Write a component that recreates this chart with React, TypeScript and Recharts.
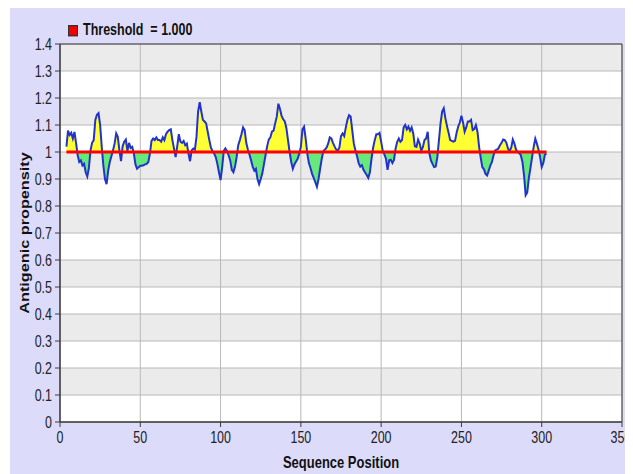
import React from "react";
import {
  ComposedChart,
  Area,
  Line,
  XAxis,
  YAxis,
  CartesianGrid,
  ReferenceArea,
} from "recharts";

// Antigenic propensity per residue, starting at residue 4
const firstResidue = 4;
const propensity = [
  1.02, 1.079, 1.063, 1.071, 1.05, 1.074, 1.034, 0.988, 0.963, 0.969,
  0.95, 0.956, 0.925, 0.909, 0.941, 1.006, 1.034, 1.044, 1.119, 1.138,
  1.144, 1.1, 1.019, 0.95, 0.9, 0.881, 0.931, 0.963, 0.984, 1.006,
  1.031, 1.069, 1.056, 1.006, 0.966, 1.021, 1.038, 1.046, 1.004, 1.034,
  1.015, 1.019, 0.994, 0.954, 0.938, 0.944, 0.949, 0.949, 0.951, 0.954,
  0.956, 0.963, 0.994, 1.041, 1.05, 1.044, 1.054, 1.044,
  1.044, 1.038, 1.054, 1.044, 1.066, 1.075, 1.081, 1.084, 1.044, 1.013,
  0.981, 1.021, 1.066, 1.038, 1.034, 1.041, 1.025, 1.031, 0.994, 0.966,
  1.006, 1.013, 1.009, 1.056, 1.15, 1.185, 1.15, 1.119, 1.113, 1.106,
  1.075, 1.044, 1.016, 1.004, 0.994, 0.981, 0.956, 0.925, 0.896, 0.944,
  1.004, 1.013, 1.003, 0.988, 0.969, 0.934, 0.925, 0.946, 0.981, 1.025,
  1.044, 1.066, 1.091, 1.081, 1.034, 1.009, 0.991, 0.969, 0.946, 0.931,
  0.938, 0.9, 0.881, 0.9, 0.921, 0.954, 0.988, 1.021, 1.046, 1.054,
  1.075, 1.079, 1.106, 1.131, 1.179, 1.159, 1.134, 1.121, 1.113, 1.088,
  1.044, 1.0, 0.963, 0.938, 0.954, 0.965, 0.975, 0.994, 1.019, 1.084,
  1.094, 1.05, 0.994, 0.959, 0.941, 0.919, 0.904, 0.888, 0.871, 0.9,
  0.938, 0.975, 1.003, 1.009, 1.016, 1.031, 1.054, 1.05, 1.034, 1.021,
  1.009, 1.006, 1.016, 1.059, 1.069, 1.059, 1.091, 1.119, 1.136, 1.131,
  1.081, 1.031, 1.006, 0.984, 0.959, 0.946, 0.951, 0.934, 0.924, 0.915,
  0.904, 0.925, 0.975, 1.016, 1.044, 1.066, 1.066, 1.071, 1.038, 1.004,
  0.991, 0.975, 0.934, 0.969, 0.971, 0.959, 0.971, 1.013, 1.038, 1.05,
  1.038, 1.044, 1.091, 1.1, 1.084, 1.094, 1.079, 1.091, 1.069, 1.021,
  1.019, 1.046, 1.031, 1.004, 1.019, 1.044, 1.05, 1.075, 0.996, 0.969,
  0.956, 0.944, 0.946, 0.981, 1.044, 1.106, 1.15, 1.162, 1.125, 1.096,
  1.071,
  1.044, 1.041, 1.038, 1.041, 1.071, 1.094, 1.109, 1.134, 1.109, 1.075,
  1.091, 1.113, 1.113, 1.119, 1.081, 1.085, 1.1, 1.075, 1.019, 0.979,
  0.944, 0.936, 0.919, 0.913, 0.931, 0.95, 0.963, 0.988, 1.006, 1.009,
  1.013, 1.025, 1.034, 1.046, 1.044, 1.034, 1.013, 1.003, 1.016, 1.046,
  1.031, 1.009, 1.0, 0.996, 0.988, 0.963, 0.913, 0.84, 0.85, 0.904,
  0.941, 0.981, 1.019, 1.049, 1.031, 1.009, 0.981, 0.944, 0.959, 0.991,
  0.993,
];

const threshold = 1.0;
const xTicks = [0, 50, 100, 150, 200, 250, 300, 350];
const yTicks = [0, 0.1, 0.2, 0.3, 0.4, 0.5, 0.6, 0.7, 0.8, 0.9, 1, 1.1, 1.2, 1.3, 1.4];

const rows = propensity.map((v, i) => ({
  pos: firstResidue + i,
  value: v,
  above: Math.max(v, threshold),
  below: Math.min(v, threshold),
  threshold,
}));

const FONT = "'Liberation Sans', Arial, sans-serif";
// glyphs are drawn tall and narrow, so every text is stretched vertically
const STRETCH = 1.25;

const XTick = ({ x, y, payload }: any) => (
  <text
    transform={`translate(${x},${y + 1}) scale(1,${STRETCH})`}
    textAnchor="middle"
    dy="0.71em"
    fontFamily={FONT}
    fontSize={12.5}
    fill="#222"
  >
    {payload.value}
  </text>
);

const YTick = ({ x, y, payload }: any) => (
  <text
    transform={`translate(${x},${y}) scale(1,${STRETCH})`}
    textAnchor="end"
    dy="0.355em"
    fontFamily={FONT}
    fontSize={12.5}
    fill="#222"
  >
    {String(Number(Number(payload.value).toFixed(1)))}
  </text>
);

const YTitle = (props: any) => {
  const vb = props.viewBox || {};
  const cx = 14;
  const cy = (vb.y ?? 36) + (vb.height ?? 378) / 2;
  return (
    <text
      transform={`translate(${cx},${cy}) scale(1,${STRETCH}) rotate(-90)`}
      textAnchor="middle"
      dy="0.36em"
      fontFamily={FONT}
      fontWeight={700}
      fontSize={13}
      fill="#111"
    >
      Antigenic propensity
    </text>
  );
};

const XTitle = (props: any) => {
  const vb = props.viewBox || {};
  const cx = (vb.x ?? 50) + (vb.width ?? 562) / 2;
  return (
    <text
      transform={`translate(${cx},460) scale(1,${STRETCH})`}
      textAnchor="middle"
      fontFamily={FONT}
      fontWeight={700}
      fontSize={13}
      fill="#111"
    >
      Sequence Position
    </text>
  );
};

export default function App() {
  return (
    <div
      style={{
        position: "relative",
        width: 623,
        height: 466,
        marginLeft: 2,
        background: "#dcdcfa",
        fontFamily: FONT,
      }}
    >
      <div
        style={{
          position: "absolute",
          left: 58,
          top: 15,
          display: "flex",
          alignItems: "center",
          gap: 5,
          fontWeight: 700,
          fontSize: 12.5,
          color: "#111",
          zIndex: 2,
          transform: `scaleY(${STRETCH})`,
          transformOrigin: "left center",
        }}
      >
        <span
          style={{
            display: "inline-block",
            width: 8,
            height: 7,
            background: "#ee0000",
            border: "1px solid #333",
          }}
        />
        <span>Threshold&nbsp; = 1.000</span>
      </div>
      <ComposedChart
        width={623}
        height={466}
        data={rows}
        margin={{ top: 36, right: 11, bottom: 22, left: 10 }}
      >
        <CartesianGrid
          stroke="#b8b8b8"
          horizontalFill={["#ebebeb", "#ffffff"]}
          fillOpacity={1}
        />
        <XAxis
          type="number"
          dataKey="pos"
          domain={[0, 350]}
          ticks={xTicks}
          height={30}
          tickSize={5}
          tickMargin={4}
          stroke="#3a3a3a"
          tick={<XTick />}
          label={<XTitle />}
        />
        <YAxis
          type="number"
          domain={[0, 1.4]}
          ticks={yTicks}
          width={40}
          tickSize={5}
          tickMargin={3}
          stroke="#3a3a3a"
          tick={<YTick />}
          label={<YTitle />}
        />
        <Area
          type="linear"
          dataKey="above"
          baseValue={threshold}
          fill="#ffff33"
          fillOpacity={1}
          stroke="none"
          isAnimationActive={false}
        />
        <Area
          type="linear"
          dataKey="below"
          baseValue={threshold}
          fill="#66e87a"
          fillOpacity={1}
          stroke="none"
          isAnimationActive={false}
        />
        <Line
          type="linear"
          dataKey="value"
          stroke="#2233cc"
          strokeWidth={2}
          dot={false}
          isAnimationActive={false}
        />
        <Line
          type="linear"
          dataKey="threshold"
          stroke="#ff0000"
          strokeWidth={3}
          dot={false}
          isAnimationActive={false}
        />
        <ReferenceArea
          x1={0}
          x2={350}
          y1={0}
          y2={1.4}
          fill="none"
          stroke="#3a3a3a"
          strokeWidth={1}
        />
      </ComposedChart>
    </div>
  );
}
